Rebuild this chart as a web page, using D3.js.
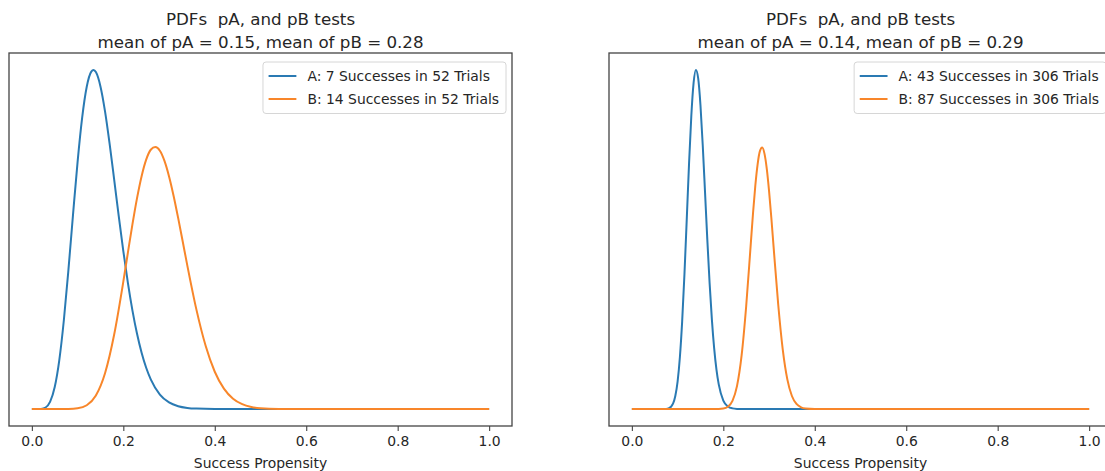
<!DOCTYPE html>
<html>
<head>
<meta charset="utf-8">
<script src="https://cdn.jsdelivr.net/npm/d3@7"></script>
<style>
  body { margin: 0; background: #fff; }
  text { font-family: "DejaVu Sans", sans-serif; fill: #262626; white-space: pre; }
</style>
</head>
<body>
<svg width="1105" height="471"></svg>
<script>
// values (density, no y ticks shown)
let xLeftA = [0, 0.01, 0.02, 0.03, 0.04, 0.05, 0.06, 0.07, 0.08, 0.09, 0.10, 0.11, 0.12, 0.13, 0.135, 0.14, 0.15, 0.16, 0.17, 0.18, 0.19, 0.20, 0.21, 0.22, 0.23, 0.24, 0.25, 0.26, 0.28, 0.30, 0.32, 0.34, 0.36, 0.40, 0.45, 0.5, 0.6, 0.8, 1.0]
let yLeftA = [0, 0, 0.004, 0.039, 0.185, 0.551, 1.227, 2.23, 3.49, 4.868, 6.19, 7.296, 8.07, 8.449, 8.49, 8.436, 8.078, 7.452, 6.644, 5.746, 4.83, 3.955, 3.159, 2.466, 1.884, 1.409, 1.033, 0.743, 0.364, 0.166, 0.071, 0.028, 0.011, 0.001, 0, 0, 0, 0, 0]

let xLeftB = [0, 0.06, 0.08, 0.10, 0.12, 0.14, 0.16, 0.18, 0.20, 0.21, 0.22, 0.23, 0.24, 0.25, 0.26, 0.27, 0.28, 0.29, 0.30, 0.31, 0.32, 0.33, 0.34, 0.36, 0.38, 0.40, 0.42, 0.44, 0.46, 0.48, 0.50, 0.54, 0.6, 0.8, 1.0]
let yLeftB = [0, 0, 0.002, 0.017, 0.094, 0.338, 0.896, 1.865, 3.19, 3.915, 4.628, 5.281, 5.831, 6.244, 6.492, 6.56, 6.467, 6.213, 5.825, 5.336, 4.779, 4.188, 3.592, 2.483, 1.584, 0.934, 0.51, 0.258, 0.121, 0.052, 0.021, 0.003, 0, 0, 0]

let xRightA = [0, 0.06, 0.07, 0.08, 0.09, 0.095, 0.10, 0.105, 0.11, 0.115, 0.12, 0.125, 0.13, 0.135, 0.14, 0.145, 0.15, 0.155, 0.16, 0.165, 0.17, 0.175, 0.18, 0.185, 0.19, 0.20, 0.21, 0.22, 0.23, 0.24, 0.26, 0.4, 0.6, 0.8, 1.0]
let yRightA = [0, 0, 0.002, 0.036, 0.321, 0.772, 1.631, 3.07, 5.2, 7.99, 11.23, 14.52, 17.37, 19.33, 20.1, 19.61, 18.02, 15.64, 12.86, 10.04, 7.47, 5.3, 3.6, 2.34, 1.461, 0.505, 0.151, 0.039, 0.009, 0.002, 0, 0, 0, 0, 0]

let xRightB = [0, 0.18, 0.20, 0.21, 0.22, 0.23, 0.24, 0.25, 0.26, 0.265, 0.27, 0.275, 0.28, 0.285, 0.29, 0.295, 0.30, 0.305, 0.31, 0.32, 0.33, 0.34, 0.35, 0.36, 0.37, 0.38, 0.40, 0.6, 0.8, 1.0]
let yRightB = [0, 0, 0.031, 0.138, 0.485, 1.373, 3.179, 6.095, 9.778, 11.62, 13.25, 14.51, 15.29, 15.5, 15.14, 14.25, 12.93, 11.34, 9.597, 6.213, 3.523, 1.757, 0.772, 0.3, 0.103, 0.032, 0.002, 0, 0, 0]

let xTicks = [0, 0.2, 0.4, 0.6, 0.8, 1.0]
let titles = ['mean of pA = 0.15, mean of pB = 0.28', 'mean of pA = 0.14, mean of pB = 0.29']
let legendLeft = ['A: 7 Successes in 52 Trials', 'B: 14 Successes in 52 Trials']
let legendRight = ['A: 43 Successes in 306 Trials', 'B: 87 Successes in 306 Trials']

let colors = ['#2a7ab3', '#f8862a']

let svg = d3.select('svg')

drawPanel(9, titles[0], [[xLeftA, yLeftA], [xLeftB, yLeftB]], legendLeft)
drawPanel(609, titles[1], [[xRightA, yRightA], [xRightB, yRightB]], legendRight)

function drawPanel(left, subtitle, series, labels) {
    let w = 503, top = 53, bottom = 426
    let g = svg.append('g')

    let data = series.map(s => s[0].map((x, i) => ({x: x, y: s[1][i]})))
    let ymax = d3.max(data, d => d3.max(d, p => p.y))

    let x = d3.scaleLinear().domain([-0.05, 1.05]).range([left, left + w])
    let y = d3.scaleLinear().domain([-0.05 * ymax, 1.05 * ymax]).range([bottom, top])

    // title
    let cx = left + w / 2
    g.append('text').attr('x', cx).attr('y', 24.5).attr('text-anchor', 'middle')
        .style('font-size', '16.7px').text('PDFs  pA, and pB tests')
    g.append('text').attr('x', cx).attr('y', 47.5).attr('text-anchor', 'middle')
        .style('font-size', '16.7px').text(subtitle)

    let line = d3.line().x(d => x(d.x)).y(d => y(d.y)).curve(d3.curveMonotoneX)

    g.selectAll('path.curve')
        .data(data)
        .enter()
        .append('path')
        .attr('class', 'curve')
        .attr('d', line)
        .attr('fill', 'none')
        .attr('stroke', (d, i) => colors[i])
        .attr('stroke-width', 2)
        .attr('stroke-linejoin', 'round')

    // frame
    g.append('rect')
        .attr('x', left).attr('y', top)
        .attr('width', w).attr('height', bottom - top)
        .attr('fill', 'none').attr('stroke', '#444').attr('stroke-width', 1.3)

    // x axis
    let axis = g.append('g').attr('transform', 'translate(0,' + bottom + ')')
        .call(d3.axisBottom(x).tickValues(xTicks).tickFormat(d3.format('.1f')).tickSize(5).tickPadding(5))
    axis.select('.domain').remove()
    axis.selectAll('line').attr('stroke', '#444').attr('stroke-width', 1.1)
    axis.selectAll('text').style('font-size', '13.9px').attr('fill', '#262626')

    g.append('text').attr('x', cx).attr('y', 468).attr('text-anchor', 'middle')
        .style('font-size', '13.9px').text('Success Propensity')

    // legend
    let lg = g.append('g')
    let texts = lg.selectAll('text')
        .data(labels)
        .enter()
        .append('text')
        .style('font-size', '13.9px')
        .attr('dy', '0.35em')
        .text(d => d)
    let tw = d3.max(texts.nodes(), n => n.getComputedTextLength())
    let boxR = left + w - 6, boxW = tw + 5.6 + 27.8 + 11 + 7
    let boxL = boxR - boxW, boxT = 62
    lg.insert('rect', 'text')
        .attr('x', boxL).attr('y', boxT)
        .attr('width', boxW).attr('height', 51.5)
        .attr('rx', 3)
        .attr('fill', '#fff').attr('fill-opacity', 0.8)
        .attr('stroke', '#d6d6d6')
    texts.attr('x', boxL + 5.6 + 27.8 + 11).attr('y', (d, i) => boxT + 14 + i * 23)
    lg.selectAll('line')
        .data(labels)
        .enter()
        .append('line')
        .attr('x1', boxL + 5.6).attr('x2', boxL + 5.6 + 27.8)
        .attr('y1', (d, i) => boxT + 14 + i * 23)
        .attr('y2', (d, i) => boxT + 14 + i * 23)
        .attr('stroke', (d, i) => colors[i])
        .attr('stroke-width', 2)
}
</script>
</body>
</html>
